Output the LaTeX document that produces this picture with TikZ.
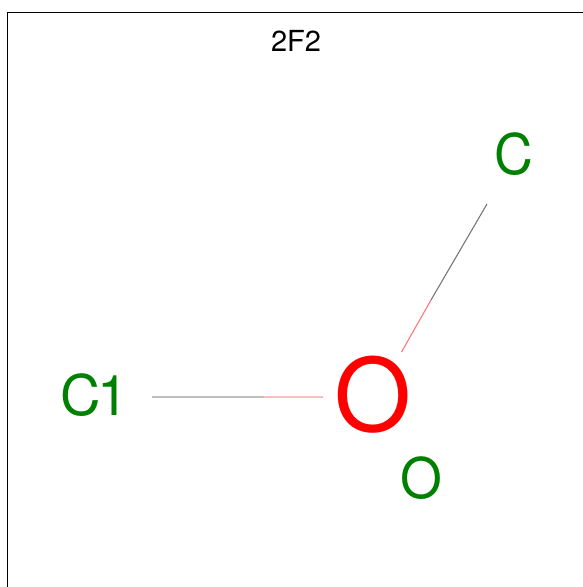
\documentclass[tikz,border=0pt]{standalone}
\usepackage{fontspec}
\setmainfont{TeX Gyre Heros}
\definecolor{atomgreen}{RGB}{0,128,0}
\definecolor{hgray}{RGB}{190,190,190}
\definecolor{hpink}{RGB}{255,190,190}
\definecolor{dgray}{RGB}{120,120,120}
\definecolor{dpink}{RGB}{255,120,120}
\tikzset{
  atomlabel/.style={inner sep=0pt,text=atomgreen,anchor=center},
  bondline/.style={line width=1.1pt}
}
\begin{document}
\begin{tikzpicture}[x=1pt,y=-1pt]
\useasboundingbox (0,0) rectangle (583,587);
\draw[black,line width=0.8pt] (7.5,587) -- (7.5,12.5) -- (583,12.5);
\node[inner sep=0pt,font=\fontsize{29}{32}\selectfont] (title) at (296,40.5) {2F2};
\node[atomlabel,font=\fontsize{56}{60}\selectfont,xscale=0.96] (c) at (514,154) {C};
\node[atomlabel,font=\fontsize{56}{60}\selectfont] (c1) at (94.5,395.5) {C\kern-4pt 1};
\node[atomlabel,font=\fontsize{56}{60}\selectfont,xscale=0.96] (olabel) at (421,478) {O};
\node[inner sep=0pt,text=red,font=\fontsize{101}{110}\selectfont,xscale=0.98] (o) at (373.5,395) {O};
\coordinate (cEnd) at (487,204);
\coordinate (cMid) at (431,300);
\coordinate (oEndA) at (401.5,352);
\coordinate (c1End) at (152,397);
\coordinate (c1Mid) at (264,397);
\coordinate (oEndB) at (323,397);
\draw[bondline,dgray] (cEnd) -- (cMid);
\draw[bondline,dpink] (cMid) -- (oEndA);
\draw[bondline,line width=2pt,hgray] (c1End) -- (c1Mid);
\draw[bondline,line width=2pt,hpink] (c1Mid) -- (oEndB);
\end{tikzpicture}
\end{document}
